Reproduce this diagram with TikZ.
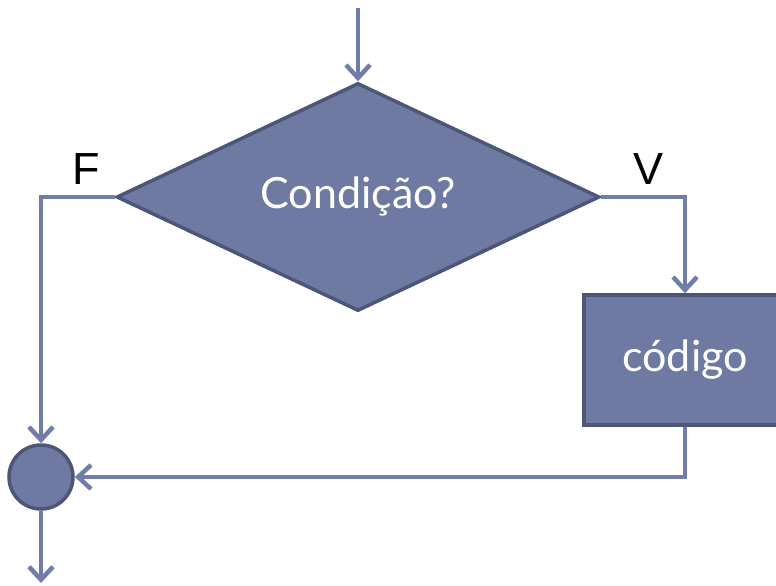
\documentclass[tikz,border=0pt]{standalone}
\usepackage{fontspec}
\setmainfont{Lato}
\newfontfamily\labfont{Liberation Sans}
\usetikzlibrary{shapes.geometric,arrows.meta}
\definecolor{boxfill}{RGB}{111,122,162}
\definecolor{boxdraw}{RGB}{76,86,120}
\definecolor{linecol}{RGB}{112,125,168}
\tikzset{
  shapebox/.style={fill=boxfill,draw=boxdraw,line width=3.5pt,text=white,font=\fontsize{43}{48}\selectfont,inner sep=0pt},
  conn/.style={draw=linecol,line width=4.5pt,-{Straight Barb[length=13pt,width=24pt,line width=4.5pt]}},
  lab/.style={font=\labfont\fontsize{45}{50}\selectfont,text=black,inner sep=0pt}
}
\begin{document}
\begin{tikzpicture}[x=1pt,y=1pt]
\useasboundingbox (0,0) rectangle (776,-586);
\clip (0,0) rectangle (776,-586);
\node[shapebox,diamond,minimum width=483pt,minimum height=228pt,aspect=2.12] (cond) at (358,-197) {Condição?};
\node[shapebox,rectangle,minimum width=202pt,minimum height=130pt] (code) at (685,-360) {código};
\node[shapebox,circle,minimum size=64pt] (join) at (41,-477) {};
\coordinate (start) at (358,-8);
\coordinate (finish) at (41,-583);
\node[lab] (flab) at (86,-169) {F};
\node[lab] (vlab) at (648,-169) {V};
\draw[conn] (start) -- (cond.north);
\draw[conn] (cond.west) -| (join.north);
\draw[conn] (cond.east) -| (code.north);
\draw[conn] (code.south) |- (join.east);
\draw[conn] (join.south) -- (finish);
\end{tikzpicture}
\end{document}
